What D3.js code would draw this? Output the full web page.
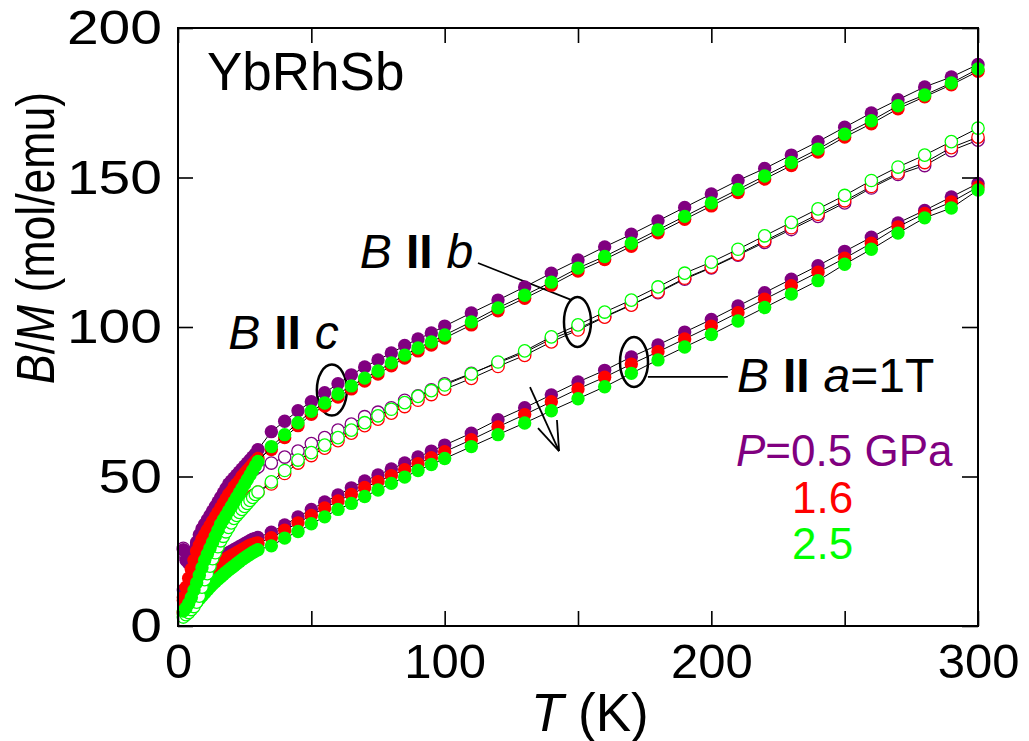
<!DOCTYPE html>
<html>
<head>
<meta charset="utf-8">
<script src="https://cdn.jsdelivr.net/npm/d3@7"></script>
<style>
  body { margin: 0; background: #fff; }
  svg text { font-family: "Liberation Sans", Arial, Helvetica, sans-serif; }
</style>
</head>
<body>
<svg id="chart" width="1029" height="741"></svg>
<script>
// Temperature grid (K): dense below 30 K, 5 K steps to 100 K, 10 K steps above
const temps = [2,3,4,5,6,7,8,9,10,11,12,13,14,15,16,17,18,19,20,21,22,23,24,25,26,27,28,29,30,
  35,40,45,50,55,60,65,70,75,80,85,90,95,100,
  110,120,130,140,150,160,170,180,190,200,210,220,230,240,250,260,270,280,290,300];

// B/M (mol/emu), field along a (filled circles)
const aP05 = [12,11.5,12,13,14.5,16,17.5,18.5,19.5,20.5,21,21.5,22,22.5,23,23.5,24,24.5,25,25.5,26,26.5,27,27.5,28,28.5,29,29.3,29.6,
  31.4,33.8,36.5,39,41.5,43.8,46.2,48.5,50.5,52.5,54.5,56.5,58.5,60.5,
  64.5,69,73,77.3,81.6,85.5,90,94,98.3,102.5,107,111.5,116,120.5,125.3,130,134.8,139,143.5,148];
const aP16 = [8.5,9,10,11,12.5,14,15,16,17,17.8,18.6,19.3,20,20.6,21.2,21.8,22.4,23,23.5,24,24.5,25,25.5,26,26.5,27,27.3,27.6,27.8,
  29.5,32,34.5,37,39.5,41.8,44,46.3,48.3,50.3,52.3,54.3,56.3,58.3,
  62.3,66.6,70.7,75,79.3,83.2,87.6,91.7,96,100.3,104.8,109.3,113.8,118.3,123,128,133.5,138,141.8,146.8];
const aP25 = [4,4.5,5.2,6,7,8,9,10,11,12,13,14,14.8,15.6,16.4,17.2,18,18.7,19.4,20.1,20.8,21.5,22.2,22.8,23.4,24,24.6,25.1,25.5,
  26.8,29.4,31.6,34.2,36.5,39,41,43.3,45.5,47.7,49.8,52,54,56,
  60,64,67.9,72,76,80,84.5,89,93.3,97.5,102,106.5,111,115.5,121,126,131.4,136.5,139.8,145.8];

// field along b (open circles)
const bP05 = [26,23,22,23,25,27,29,31,32.5,34,35.5,37,38.5,40,41,42,43,44,45,46,47,48,48.8,49.6,50.4,51.2,52,52.6,53.2,
  54.5,56.5,58.5,61,63,65.5,67.5,70,71.5,73,75.5,77,79,81,
  84.5,88,91.5,96,99.5,103.5,107.5,111.5,116,119.8,124,128.3,132.6,137,141.5,146.5,151,154,159,162.5];
const bP16 = [4.5,5.5,6.5,7.5,9,10.5,12.5,15,17.5,20,22,24,26,28,29.5,31,32.5,34,35.5,36.5,37.5,38.5,39.5,40.5,41.5,42.5,43.5,44,44.8,
  47.5,51,54.5,57,59.5,62,64.5,67,69.2,71.2,73.4,75.5,77.4,79.2,
  82.8,86.8,90.5,95,99,103.3,107.3,111.7,116.3,120,124.3,128.8,133.2,137.7,142.2,147,151.5,155,160,163.5];
const bP25 = [3,3.8,4.5,5.5,6.5,8,10,13,15.5,17.5,20,22.5,24.5,26.5,28.5,30,31.5,33,34.5,36,37,38,39,40,41,42,43,44,44.8,
  48.2,52,55.5,58,60.5,63,65.5,68,70.3,72.5,74.7,76.8,78.7,80.6,
  84.3,88.3,92,96.7,100.7,105,109,113.4,118,121.7,126,130.5,135,139.5,144,149,153.5,157.5,162,166.5];

// field along c (filled circles)
const cP05 = [25.5,22,21,22.5,25,28,30.5,32.5,34,35.5,37,38.5,40,41.5,43,44.5,46,47.5,48.5,49.5,50.5,51.5,52.5,53.5,54.5,55.5,56.5,57.5,59,
  65,68.5,72,75,78,81,84,86.6,89,91.3,93.8,96,98,100.3,
  104.7,109,113.4,118,122.4,126.8,131,135.5,140,144.5,149,153,157.5,162,166.8,171.6,176,180.3,183.6,187.8];
const cP16 = [9.5,13,16,19,22,25,27,29,30.5,32,33.5,35,36.5,38,39.5,41,42.5,44,45,46.5,47.5,48.5,50,51,52,53,54,55,56,
  59,63,67,70.8,73.6,76.6,79.3,81.9,84.3,87,89.6,92,94,96.3,
  100.7,105.4,109.6,114,118.7,122.6,127,131.5,136,140.5,145,149.5,154,158.5,163.5,168,173,177,181,185.5];
const cP25 = [5,6,7.5,9.5,12,14.5,17,19.5,22,24,26,28,30,32,34,35.5,37,38.5,40,41.5,43,44.5,46,47.5,49,50.5,52,53.5,55,
  60,64,68,71.8,74.6,77.6,80.3,82.9,85.3,88,90.6,93,95,97.3,
  101.7,106.4,110.6,115,119.7,123.6,128,132.5,137,141.5,146,150.5,155,159.5,164.5,169,174,177.6,181.6,186.3];

const pressureLabels = ["0.5 GPa", "1.6", "2.5"];
const pressureColors = ["#800080", "#ff0000", "#00ff00"];
const xTicks = [0, 50, 100, 150, 200, 250, 300];
const xTickLabels = [0, 100, 200, 300];
const yTicks = [0, 50, 100, 150, 200];

const svg = d3.select("#chart");
const x = d3.scaleLinear().domain([0, 300]).range([178, 978]);
const y = d3.scaleLinear().domain([0, 200]).range([626, 28]);

// Guide ellipses marking each field direction (drawn beneath the markers)
const ellipses = [
  { t: 57.7, v: 78.9, rx: 15, ry: 25.5 },   // c
  { t: 149.8, v: 101.7, rx: 13.5, ry: 25 }, // b
  { t: 171.0, v: 88.3, rx: 14, ry: 25 }     // a
];
svg.append("g").selectAll("ellipse").data(ellipses).enter().append("ellipse")
  .attr("cx", d => x(d.t)).attr("cy", d => y(d.v))
  .attr("rx", d => d.rx).attr("ry", d => d.ry)
  .attr("fill", "none").attr("stroke", "#000").attr("stroke-width", 2.5);

// Leader lines and pressure arrow
const segs = [
  [112.5, 121.4, 147.7, 109.0],
  [176.2, 83.3, 206.2, 83.3],
  [132.0, 79.9, 142.9, 58.5],
  [135.0, 66.2, 142.9, 58.5],
  [142.1, 68.9, 142.9, 58.5]
];
svg.append("g").selectAll("line").data(segs).enter().append("line")
  .attr("x1", d => x(d[0])).attr("y1", d => y(d[1]))
  .attr("x2", d => x(d[2])).attr("y2", d => y(d[3]))
  .attr("stroke", "#000").attr("stroke-width", 1.8);

// Data: each pressure draws a, b, c in turn (line, then its markers)
const seriesByPressure = [
  [aP05, bP05, cP05],
  [aP16, bP16, cP16],
  [aP25, bP25, cP25]
];
const line = d3.line().x(d => x(d[0])).y(d => y(d[1]));
const dataG = svg.append("g");
seriesByPressure.forEach((group, pi) => {
  const col = pressureColors[pi];
  group.forEach((vals, si) => {
    const pts = temps.map((t, i) => [t, vals[i]]);
    const open = si === 1;
    dataG.append("path").attr("d", line(pts))
      .attr("fill", "none").attr("stroke", "#000").attr("stroke-width", 1);
    dataG.append("g").selectAll("circle").data(pts).enter().append("circle")
      .attr("cx", d => x(d[0])).attr("cy", d => y(d[1]))
      .attr("r", open ? 6.2 : 6.7)
      .attr("fill", open ? "#fff" : col)
      .attr("stroke", open ? col : "none")
      .attr("stroke-width", open ? 1.3 : 0);
  });
});

// Axes with inward ticks on all four sides
const fontFam = '"Liberation Sans", Arial, Helvetica, sans-serif';
const axBottom = svg.append("g").attr("transform", "translate(0,626)")
  .call(d3.axisBottom(x).tickValues(xTicks).tickSizeInner(-15).tickSizeOuter(0).tickPadding(17)
    .tickFormat(d => xTickLabels.includes(d) ? d : ""));
const axTop = svg.append("g").attr("transform", "translate(0,28)")
  .call(d3.axisTop(x).tickValues(xTicks).tickSizeInner(-15).tickSizeOuter(0).tickFormat(""));
const axLeft = svg.append("g").attr("transform", "translate(178,0)")
  .call(d3.axisLeft(y).tickValues(yTicks).tickSizeInner(-15).tickSizeOuter(0).tickPadding(16));
const axRight = svg.append("g").attr("transform", "translate(978,0)")
  .call(d3.axisRight(y).tickValues(yTicks).tickSizeInner(-16).tickSizeOuter(0).tickFormat(""));
[axBottom, axTop, axLeft, axRight].forEach(g => {
  g.select(".domain").remove();
  g.selectAll(".tick line").attr("stroke", "#000").attr("stroke-width", 1.6);
  g.selectAll("text").attr("font-family", fontFam).attr("font-size", 49).attr("fill", "#000");
});
axLeft.selectAll(".tick text")
  .attr("textLength", d => String(d).length * 31.7)
  .attr("lengthAdjust", "spacingAndGlyphs");

svg.append("rect").attr("x", 178).attr("y", 28).attr("width", 800).attr("height", 598)
  .attr("fill", "none").attr("stroke", "#000").attr("stroke-width", 2);

// Axis titles
const yTitle = svg.append("text")
  .attr("transform", "translate(54,238) rotate(-90)")
  .attr("text-anchor", "middle").attr("font-size", 54)
  .attr("textLength", 292).attr("lengthAdjust", "spacingAndGlyphs");
yTitle.append("tspan").attr("font-style", "italic").text("B");
yTitle.append("tspan").text("/");
yTitle.append("tspan").attr("font-style", "italic").text("M");
yTitle.append("tspan").text(" (mol/emu)");

const xTitle = svg.append("text").attr("x", 531).attr("y", 731).attr("font-size", 53);
xTitle.append("tspan").attr("font-style", "italic").text("T");
xTitle.append("tspan").text(" (K)");

// Compound name
svg.append("text").attr("x", 207).attr("y", 90).attr("font-size", 53).text("YbRhSb");

// Field-direction labels
function fieldLabel(px, py, axisName, tail) {
  const t = svg.append("text").attr("x", px).attr("y", py).attr("font-size", 48);
  t.append("tspan").attr("font-style", "italic").text("B");
  t.append("tspan").attr("font-weight", "bold").attr("dx", 14).text("II");
  t.append("tspan").attr("font-style", "italic").attr("dx", 14).text(axisName);
  if (tail) t.append("tspan").text(tail);
}
fieldLabel(x(18.8), y(92.6), "c");
fieldLabel(x(68.2), y(119.7), "b");
fieldLabel(x(209.6), y(78.3), "a", "=1T");

// Pressure legend
const pl = svg.append("text").attr("x", 736).attr("y", 466).attr("font-size", 44).attr("fill", pressureColors[0]);
pl.append("tspan").attr("font-style", "italic").text("P");
pl.append("tspan").text("=" + pressureLabels[0]);
svg.append("text").attr("x", 792).attr("y", 513).attr("font-size", 44).attr("fill", pressureColors[1]).text(pressureLabels[1]);
svg.append("text").attr("x", 792).attr("y", 559).attr("font-size", 44).attr("fill", pressureColors[2]).text(pressureLabels[2]);
</script>
</body>
</html>
